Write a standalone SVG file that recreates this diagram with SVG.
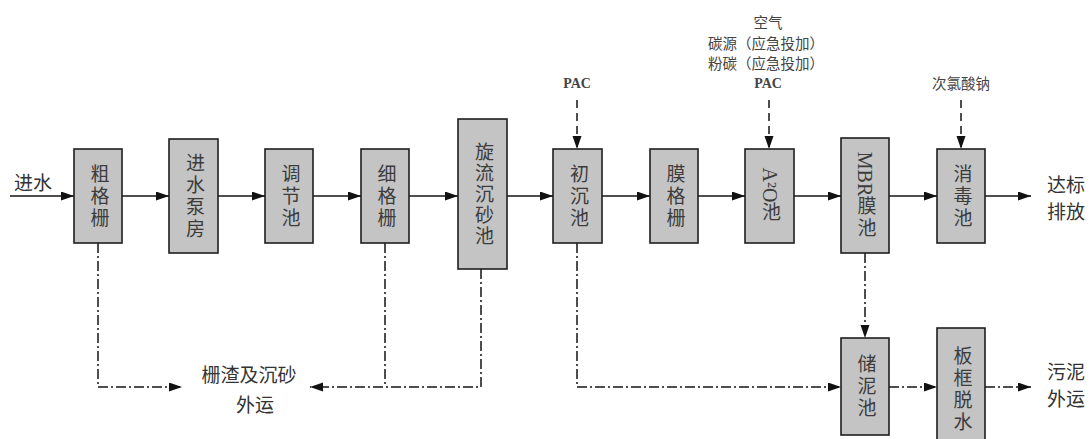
<svg xmlns="http://www.w3.org/2000/svg" width="1092" height="439" viewBox="0 0 1092 439">
  <style>
    .box { fill: #c4c4c4; stroke: #1e1e1e; stroke-width: 1.6; }
    .vt { font-family: "Liberation Serif", "Noto Sans CJK SC", sans-serif; font-size: 19px; fill: #3c3c3c; writing-mode: vertical-rl; text-anchor: middle; letter-spacing: 3px; }
    .lat { letter-spacing: 0; font-size: 20px; }
    .lbl { font-family: "Noto Sans CJK SC", sans-serif; font-size: 19px; fill: #333; dominant-baseline: central; }
    .sm { font-family: "Noto Sans CJK SC", sans-serif; font-size: 14.5px; fill: #444; text-anchor: middle; dominant-baseline: central; }
    .pac { font-family: "Liberation Serif", serif; font-size: 14px; font-weight: bold; fill: #444; text-anchor: middle; dominant-baseline: central; }
    .flow { fill: none; stroke: #141414; stroke-width: 1.5; }
    .dash { fill: none; stroke: #141414; stroke-width: 1.5; stroke-dasharray: 8 5; }
    .dd { fill: none; stroke: #141414; stroke-width: 1.5; stroke-dasharray: 10 3 2 3; }
  </style>
  <defs>
    <marker id="arr" markerUnits="userSpaceOnUse" markerWidth="14" markerHeight="10" refX="13" refY="4.5" orient="auto">
      <path d="M0,0 L13,4.5 L0,9 Z" fill="#111"/>
    </marker>
  </defs>

  <rect width="1092" height="439" fill="#fff"/>

  <!-- connectors -->
  <g id="connectors">
    <!-- main water line -->
    <path class="flow" d="M10,196 H74" marker-end="url(#arr)"/>
    <path class="flow" d="M122,196 H169" marker-end="url(#arr)"/>
    <path class="flow" d="M218,196 H265" marker-end="url(#arr)"/>
    <path class="flow" d="M313,196 H361" marker-end="url(#arr)"/>
    <path class="flow" d="M409,196 H458" marker-end="url(#arr)"/>
    <path class="flow" d="M507,196 H553" marker-end="url(#arr)"/>
    <path class="flow" d="M602,196 H650" marker-end="url(#arr)"/>
    <path class="flow" d="M698,196 H745" marker-end="url(#arr)"/>
    <path class="flow" d="M794,196 H841" marker-end="url(#arr)"/>
    <path class="flow" d="M889,196 H937" marker-end="url(#arr)"/>
    <path class="flow" d="M985,196 H1031" marker-end="url(#arr)"/>
    <!-- dosing -->
    <path class="dash" d="M577,100 V149" marker-end="url(#arr)"/>
    <path class="dash" d="M769,100 V149" marker-end="url(#arr)"/>
    <path class="dash" d="M961,100 V149" marker-end="url(#arr)"/>
    <!-- screenings and grit -->
    <path class="dd" d="M98,243 V387 H182" marker-end="url(#arr)"/>
    <path class="dd" d="M385,243 V387"/>
    <path class="dd" d="M481,269 V387 H310" marker-end="url(#arr)"/>
    <!-- sludge -->
    <path class="dd" d="M577,243 V387 H841" marker-end="url(#arr)"/>
    <path class="dd" d="M865,253 V338" marker-end="url(#arr)"/>
    <path class="dd" d="M889,387 H937" marker-end="url(#arr)"/>
    <path class="dd" d="M985,387 H1031" marker-end="url(#arr)"/>
  </g>

  <!-- process units: names set in a vertical column -->
  <g id="n-cugeshan">
    <rect class="box" x="74" y="149" width="48" height="94"/>
    <text class="vt" x="98" y="197">粗格栅</text>
  </g>
  <g id="n-bengfang">
    <rect class="box" x="169" y="139" width="49" height="114"/>
    <text class="vt" x="193.5" y="197">进水泵房</text>
  </g>
  <g id="n-tiaojie">
    <rect class="box" x="265" y="149" width="48" height="94"/>
    <text class="vt" x="289" y="197">调节池</text>
  </g>
  <g id="n-xigeshan">
    <rect class="box" x="361" y="149" width="48" height="94"/>
    <text class="vt" x="385" y="197">细格栅</text>
  </g>
  <g id="n-chensha">
    <rect class="box" x="458" y="119" width="49" height="150"/>
    <text class="vt" x="482.5" y="195" style="letter-spacing:2px">旋流沉砂池</text>
  </g>
  <g id="n-chuchen">
    <rect class="box" x="553" y="149" width="49" height="94"/>
    <text class="vt" x="577.5" y="197">初沉池</text>
  </g>
  <g id="n-mogeshan">
    <rect class="box" x="650" y="149" width="48" height="94"/>
    <text class="vt" x="674" y="197">膜格栅</text>
  </g>
  <g id="n-a2o">
    <rect class="box" x="745" y="149" width="49" height="94"/>
    <text class="vt" x="769.5" y="196"><tspan class="lat">A²O</tspan>池</text>
  </g>
  <g id="n-mbr">
    <rect class="box" x="841" y="138" width="48" height="115"/>
    <text class="vt" x="865" y="196"><tspan class="lat">MBR</tspan>膜池</text>
  </g>
  <g id="n-xiaodu">
    <rect class="box" x="937" y="149" width="48" height="94"/>
    <text class="vt" x="961" y="197">消毒池</text>
  </g>
  <g id="n-chuni">
    <rect class="box" x="841" y="338" width="48" height="97"/>
    <text class="vt" x="865" y="387">储泥池</text>
  </g>
  <g id="n-tuoshui">
    <rect class="box" x="937" y="328" width="48" height="130"/>
    <text class="vt" x="961" y="390">板框脱水</text>
  </g>

  <!-- inlet / outlet and dosing labels -->
  <g id="labels">
    <text class="lbl" x="14" y="181">进水</text>
    <text class="lbl"><tspan x="1047" y="183">达标</tspan><tspan x="1047" y="210">排放</tspan></text>
    <text class="lbl"><tspan x="1047" y="370">污泥</tspan><tspan x="1047" y="397">外运</tspan></text>
    <text class="lbl" text-anchor="middle"><tspan x="249" y="373">栅渣及沉砂</tspan><tspan x="255" y="403">外运</tspan></text>
    <text class="pac" x="577" y="83">PAC</text>
    <text class="sm"><tspan x="768" y="21">空气</tspan><tspan x="766" y="42">碳源（应急投加）</tspan><tspan x="766" y="62">粉碳（应急投加）</tspan></text>
    <text class="pac" x="768" y="83">PAC</text>
    <text class="sm" x="961" y="82">次氯酸钠</text>
  </g>
</svg>
